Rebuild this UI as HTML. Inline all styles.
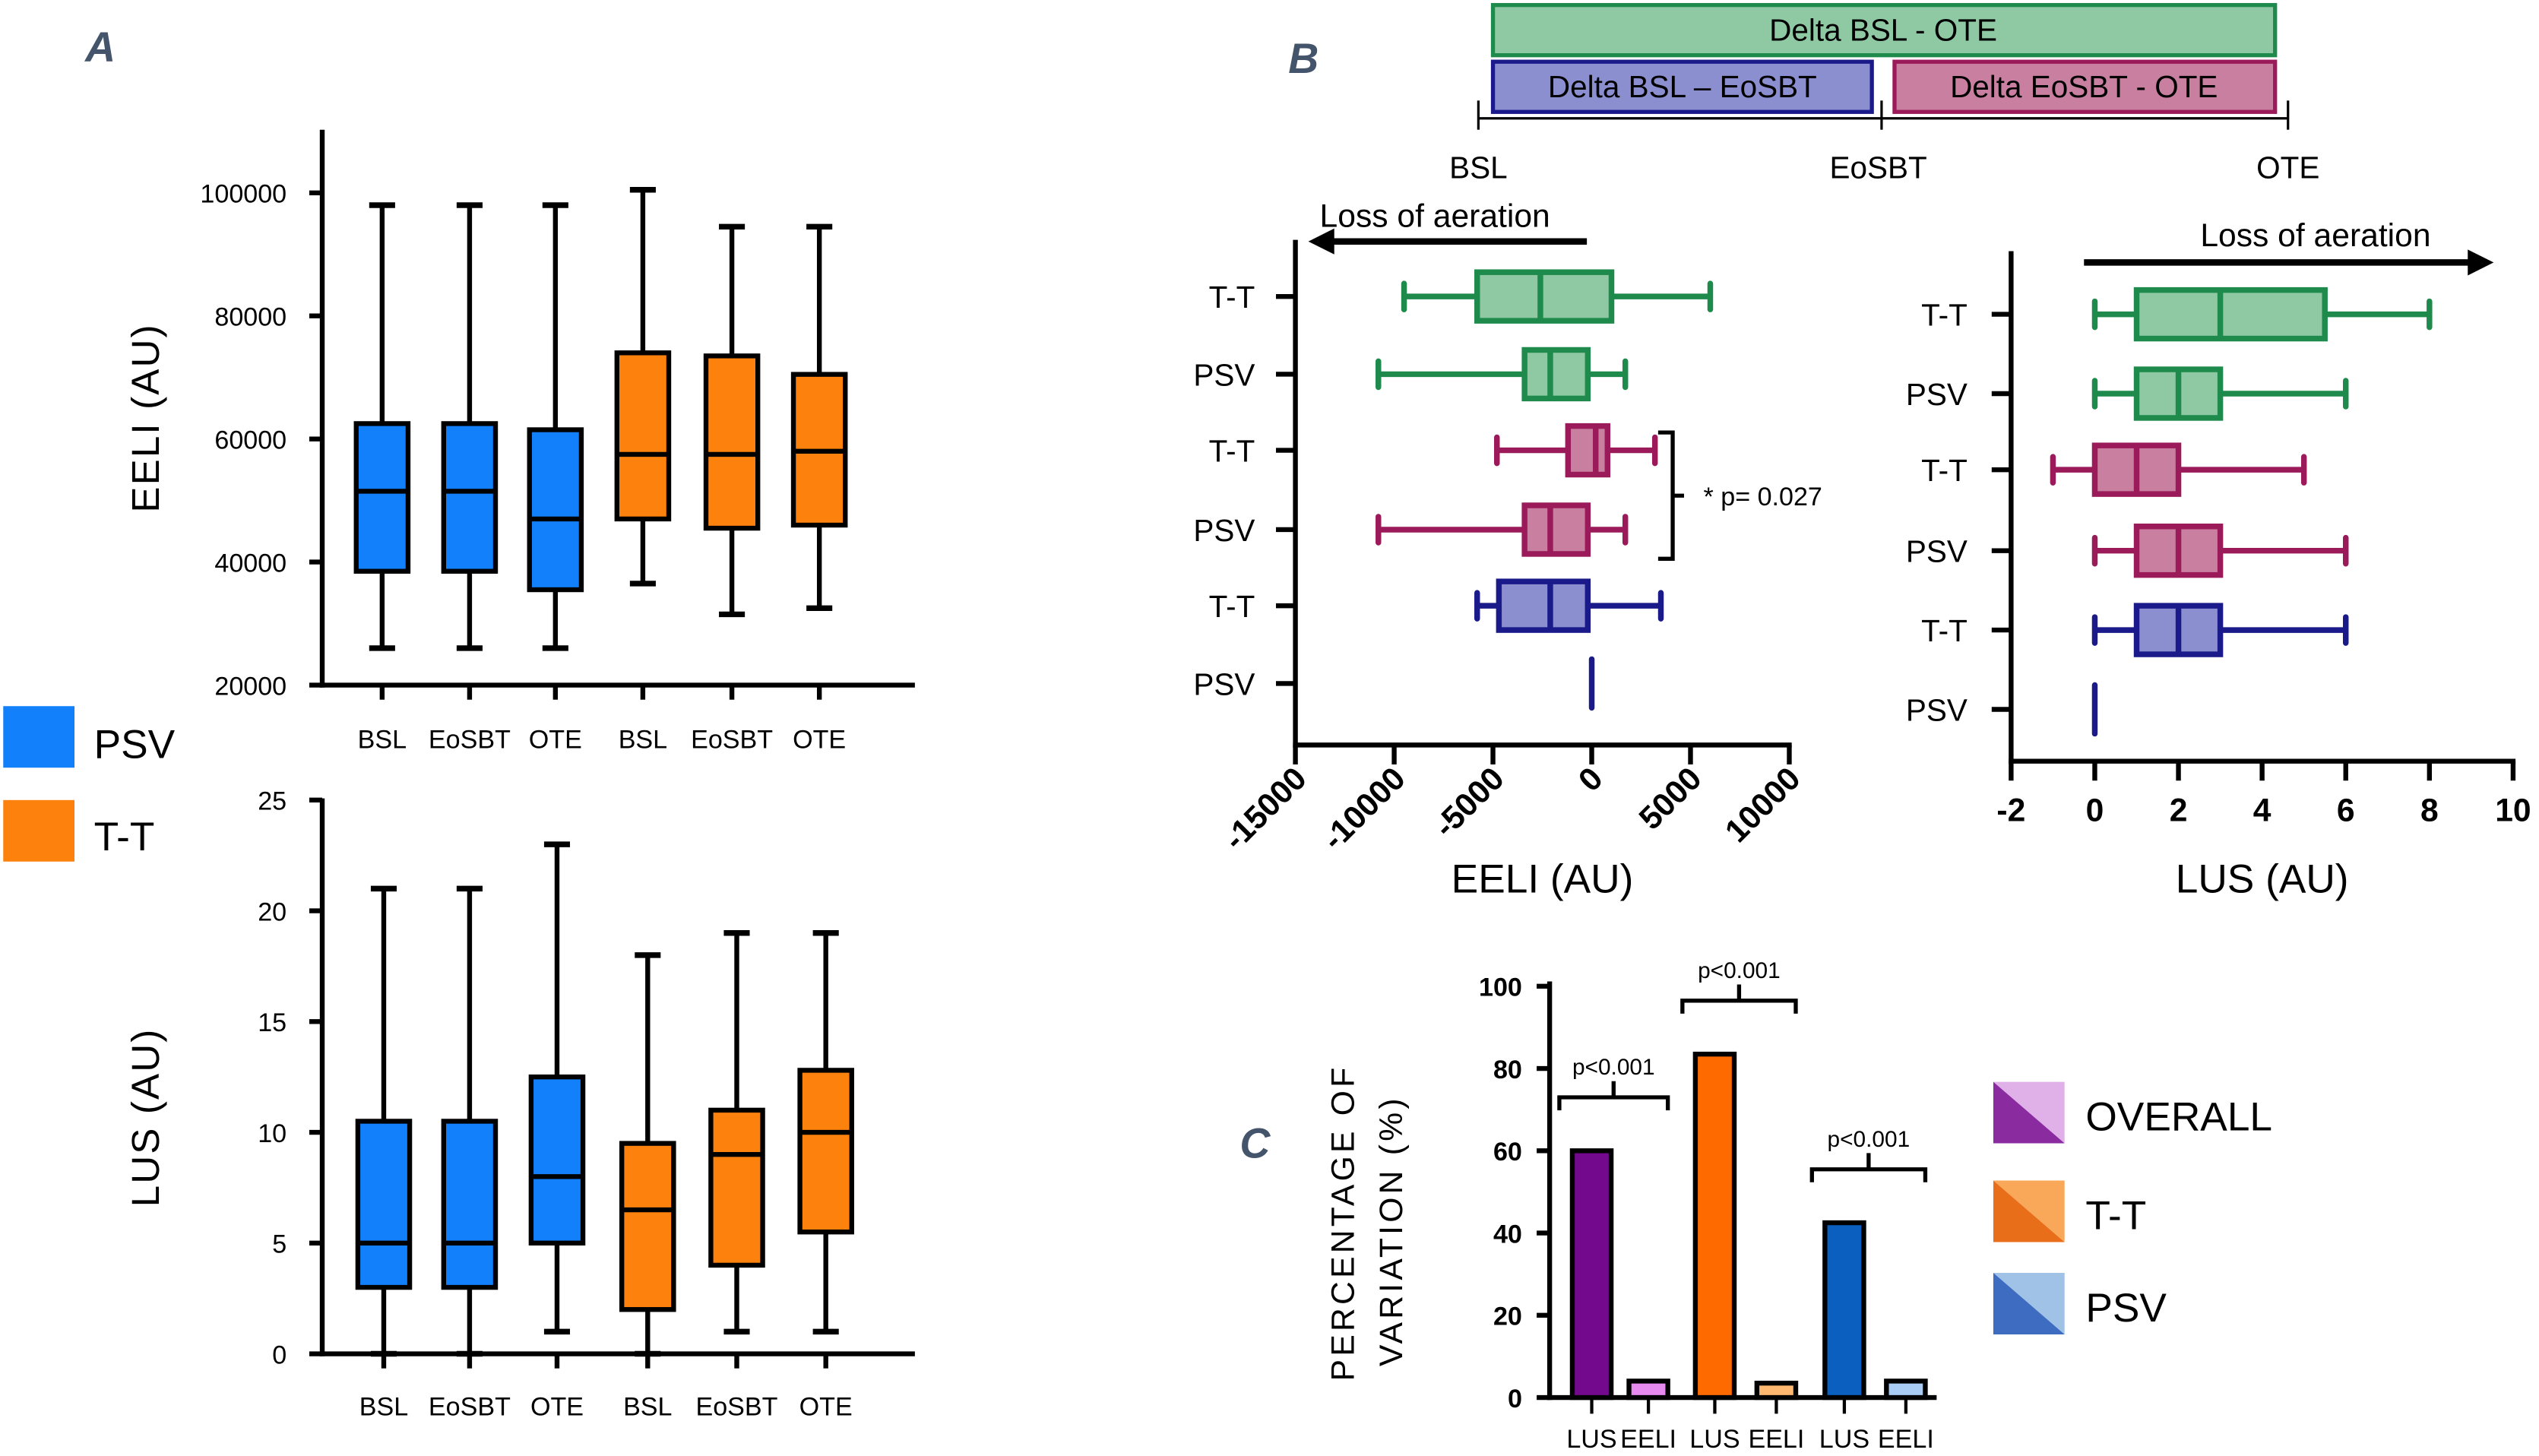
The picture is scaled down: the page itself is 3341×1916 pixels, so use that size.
<!DOCTYPE html>
<html><head><meta charset="utf-8"><style>
html,body{margin:0;padding:0;background:#fff;}
svg{display:block;font-family:"Liberation Sans",sans-serif;}
</style></head><body>
<svg id="fig" width="3341" height="1916" viewBox="0 0 1568 899" xmlns="http://www.w3.org/2000/svg">
<text x="62" y="38" font-size="26" font-weight="bold" font-style="italic" fill="#44546a" text-anchor="middle">A</text>
<text x="805" y="45" font-size="26" font-weight="bold" font-style="italic" fill="#44546a" text-anchor="middle">B</text>
<text x="775" y="715" font-size="26" font-weight="bold" font-style="italic" fill="#44546a" text-anchor="middle">C</text>
<g>
<rect x="2" y="436" width="44" height="38" fill="#1380fb"/>
<text x="58" y="468" font-size="25">PSV</text>
<rect x="2" y="494" width="44" height="38" fill="#fd820d"/>
<text x="58" y="525" font-size="25">T-T</text>
</g>
<g>
<rect x="922" y="3" width="483" height="31" fill="#8fc9a3" stroke="#1e8a4b" stroke-width="2.5"/>
<text x="1163" y="25" font-size="19" text-anchor="middle">Delta BSL - OTE</text>
<rect x="922" y="38" width="234" height="31" fill="#8b8fd0" stroke="#1a1a8a" stroke-width="2.5"/>
<text x="1039" y="60" font-size="19" text-anchor="middle">Delta BSL – EoSBT</text>
<rect x="1170" y="38" width="235" height="31" fill="#c97fa0" stroke="#9b1a5a" stroke-width="2.5"/>
<text x="1287" y="60" font-size="19" text-anchor="middle">Delta EoSBT - OTE</text>
<line x1="913" y1="73" x2="1413" y2="73" stroke="#000" stroke-width="1.5"/>
<line x1="913" y1="62" x2="913" y2="80" stroke="#000" stroke-width="1.5"/>
<line x1="1162" y1="62" x2="1162" y2="80" stroke="#000" stroke-width="1.5"/>
<line x1="1413" y1="62" x2="1413" y2="80" stroke="#000" stroke-width="1.5"/>
<text x="913" y="110" font-size="19" text-anchor="middle">BSL</text>
<text x="1160" y="110" font-size="19" text-anchor="middle">EoSBT</text>
<text x="1413" y="110" font-size="19" text-anchor="middle">OTE</text>
</g>
</svg>
<script>
// ---- Panel A top (EELI) ----
const aCats = ["BSL","EoSBT","OTE","BSL","EoSBT","OTE"];
const aGroups = ["PSV","PSV","PSV","T-T","T-T","T-T"];
const eeliMin = [26000,26000,26000,36500,31500,32500];
const eeliQ1 = [38500,38500,35500,47000,45500,46000];
const eeliMed = [51500,51500,47000,57500,57500,58000];
const eeliQ3 = [62500,62500,61500,74000,73500,70500];
const eeliMax = [98000,98000,98000,100500,94500,94500];
const eeliTicks = [20000,40000,60000,80000,100000];
// ---- Panel A bottom (LUS) ----
const lusMin = [0,0,1,0,1,1];
const lusQ1 = [3,3,5,2,4,5.5];
const lusMed = [5,5,8,6.5,9,10];
const lusQ3 = [10.5,10.5,12.5,9.5,11,12.8];
const lusMax = [21,21,23,18,19,19];
const lusTicks = [0,5,10,15,20,25];
// ---- Panel B deltas ----
const bRows = ["T-T","PSV","T-T","PSV","T-T","PSV"];
const bRowGroup = ["green","green","pink","pink","blue","blue"];
const dEeliMin = [-9500,-10800,-4800,-10800,-5800,0];
const dEeliQ1 = [-5800,-3400,-1200,-3400,-4700,0];
const dEeliMed = [-2600,-2100,200,-2100,-2100,0];
const dEeliQ3 = [1000,-200,800,-200,-200,0];
const dEeliMax = [6000,1700,3200,1700,3500,0];
const dEeliTicks = [-15000,-10000,-5000,0,5000,10000];
const dLusMin = [0,0,-1,0,0,0];
const dLusQ1 = [1,1,0,1,1,0];
const dLusMed = [3,2,1,2,2,0];
const dLusQ3 = [5.5,3,2,3,3,0];
const dLusMax = [8,6,5,6,6,0];
const dLusTicks = [-2,0,2,4,6,8,10];
// ---- Panel C ----
const cCats = ["LUS","EELI","LUS","EELI","LUS","EELI"];
const cVals = [60,4,83.5,3.5,42.5,4];
const cTicks = [0,20,40,60,80,100];

const svg = document.getElementById('fig');
const NS = 'http://www.w3.org/2000/svg';
function mk(tag, a, parent){const e=document.createElementNS(NS,tag);for(const k in a)e.setAttribute(k,a[k]);(parent||svg).appendChild(e);return e;}
function lin(d0,d1,r0,r1){return v=>r0+(v-d0)*(r1-r0)/(d1-d0);}

function vBoxPanel(name, y, yTop, yBot, tickVals, lblY, mins,q1,med,q3,maxs, xs, title, titleY){
  const g = mk('g',{});
  
  
  const ax = mk('line',{x1:199,y1:yTop,x2:199,y2:yBot+1.5,stroke:'#000','stroke-width':3},g);
  
  
  const bx = mk('line',{x1:197.5,y1:yBot,x2:565,y2:yBot,stroke:'#000','stroke-width':3},g);
  
  
  tickVals.forEach(t=>{
    const tl = mk('line',{x1:191,y1:y(t),x2:199,y2:y(t),stroke:'#000','stroke-width':3},g);
    
    
    const tt = mk('text',{x:177,y:y(t)+6,'font-size':16,'text-anchor':'end'},g);
    tt.textContent = String(t);
    
    
  });
  const ti = mk('text',{x:0,y:0,'font-size':24,'text-anchor':'middle','letter-spacing':'1',transform:`translate(98,${titleY}) rotate(-90)`},g);
  ti.textContent = title;
  
  
  xs.forEach((cx,i)=>{
    const col = aGroups[i]==='PSV' ? '#1380fb' : '#fd820d';
    const bg = mk('g',{},g);
    
    
    const w = mk('line',{x1:cx,y1:y(maxs[i]),x2:cx,y2:y(mins[i]),stroke:'#000','stroke-width':3},bg);
    
    
    [mins[i],maxs[i]].forEach(v=>{
      const c = mk('line',{x1:cx-8,y1:y(v),x2:cx+8,y2:y(v),stroke:'#000','stroke-width':3.5},bg);
      
      
    });
    const r = mk('rect',{x:cx-16,y:y(q3[i]),width:32,height:y(q1[i])-y(q3[i]),fill:col,stroke:'#000','stroke-width':3},bg);
    
    
    const m = mk('line',{x1:cx-16,y1:y(med[i]),x2:cx+16,y2:y(med[i]),stroke:'#000','stroke-width':3},bg);
    
    
    const xt = mk('line',{x1:cx,y1:yBot,x2:cx,y2:yBot+9,stroke:'#000','stroke-width':3},g);
    
    
    const xl = mk('text',{x:cx,y:lblY,'font-size':16,'text-anchor':'middle'},g);
    xl.textContent = aCats[i];
    
    
  });
}
vBoxPanel('eeli-boxplot', lin(20000,100000,423,119), 80, 423, eeliTicks, 462,
  eeliMin,eeliQ1,eeliMed,eeliQ3,eeliMax,[236,290,343,397,452,506],'EELI (AU)',258);
vBoxPanel('lus-boxplot', lin(0,25,836,494), 493, 836, lusTicks, 874,
  lusMin,lusQ1,lusMed,lusQ3,lusMax,[237,290,344,400,455,510],'LUS (AU)',690);

const gCol = {green:['#1e8a4b','#8fc9a3'],pink:['#9b1a5a','#c97fa0'],blue:['#1a1a8a','#8b8fd0']};
function hBoxPanel(name, x, x0, x1, yTop, yBot, rowsY, tickVals, tickY, rotate, mins,q1,med,q3,maxs, title, labelX){
  const g = mk('g',{});
  
  
  const ay = mk('line',{x1:x0,y1:yTop,x2:x0,y2:yBot+1.5,stroke:'#000','stroke-width':3},g);
  
  
  const axx = mk('line',{x1:x0-1.5,y1:yBot,x2:x1+1.5,y2:yBot,stroke:'#000','stroke-width':3},g);
  
  
  tickVals.forEach(t=>{
    const tl = mk('line',{x1:x(t),y1:yBot,x2:x(t),y2:yBot+12,stroke:'#000','stroke-width':3},g);
    
    
    let tt;
    if(rotate){
      tt = mk('text',{x:0,y:0,'font-size':20,'font-weight':'bold','text-anchor':'end',transform:`translate(${x(t)+8},${tickY}) rotate(-45)`},g);
    } else {
      tt = mk('text',{x:x(t),y:tickY,'font-size':20,'font-weight':'bold','text-anchor':'middle'},g);
    }
    tt.textContent = String(t);
    
    
  });
  const ti = mk('text',{x:(x0+x1)/2,y:551,'font-size':25,'text-anchor':'middle'},g);
  ti.textContent = title;
  
  
  rowsY.forEach((cy,i)=>{
    const [sc,fc] = gCol[bRowGroup[i]];
    const yt = mk('line',{x1:x0-12,y1:cy,x2:x0,y2:cy,stroke:'#000','stroke-width':3},g);
    
    
    const yl = mk('text',{x:labelX,y:cy+7,'font-size':19,'text-anchor':'end'},g);
    yl.textContent = bRows[i];
    
    
    const bg = mk('g',{},g);
    
    
    if(maxs[i]===mins[i] && q1[i]===q3[i]){
      const z = mk('line',{x1:x(med[i]),y1:cy-15,x2:x(med[i]),y2:cy+15,stroke:sc,'stroke-width':3.5,'stroke-linecap':'round'},bg);
      
      
      return;
    }
    const w = mk('line',{x1:x(mins[i]),y1:cy,x2:x(maxs[i]),y2:cy,stroke:sc,'stroke-width':3.5},bg);
    
    
    [mins[i],maxs[i]].forEach(v=>{
      const c = mk('line',{x1:x(v),y1:cy-8,x2:x(v),y2:cy+8,stroke:sc,'stroke-width':3.5,'stroke-linecap':'round'},bg);
      
      
    });
    const r = mk('rect',{x:x(q1[i]),y:cy-15,width:x(q3[i])-x(q1[i]),height:30,fill:fc,stroke:sc,'stroke-width':3.5},bg);
    
    
    const m = mk('line',{x1:x(med[i]),y1:cy-15,x2:x(med[i]),y2:cy+15,stroke:sc,'stroke-width':3.5},bg);
    
    
  });
}
hBoxPanel('delta-eeli-boxplot', lin(-15000,10000,800,1105), 800, 1105, 148, 460,
  [183,231,278,327,374,422], dEeliTicks, 482, true,
  dEeliMin,dEeliQ1,dEeliMed,dEeliQ3,dEeliMax,'EELI (AU)',775);
hBoxPanel('delta-lus-boxplot', lin(-2,10,1242,1552), 1242, 1552, 155, 470,
  [194,243,290,340,389,438], dLusTicks, 507, false,
  dLusMin,dLusQ1,dLusMed,dLusQ3,dLusMax,'LUS (AU)',1215);

const ar1 = mk('line',{x1:980,y1:149,x2:822,y2:149,stroke:'#000','stroke-width':4});


const ah1 = mk('polygon',{points:'808,149 824,141 824,157',fill:'#000'});


const at1 = mk('text',{x:815,y:140,'font-size':20});
at1.textContent = 'Loss of aeration';


const ar2 = mk('line',{x1:1287,y1:162,x2:1526,y2:162,stroke:'#000','stroke-width':4});


const ah2 = mk('polygon',{points:'1540,162 1524,154 1524,170',fill:'#000'});


const at2 = mk('text',{x:1430,y:152,'font-size':20,'text-anchor':'middle'});
at2.textContent = 'Loss of aeration';


const br = mk('path',{d:'M1024,267 L1033,267 L1033,345 L1024,345 M1033,306 L1040,306',fill:'none',stroke:'#000','stroke-width':2.5});


const bt = mk('text',{x:1052,y:312,'font-size':16});
bt.textContent = '* p= 0.027';



// ===== Panel C bar chart =====
const cy = lin(0,100,863,609);
const cX = [983,1018,1059,1097,1139,1177];
const cFill = ['#730a8e','#e68af0','#ff6a00','#ffb870','#0a5fbf','#a9ccf5'];
const cg = mk('g',{});


const cax = mk('line',{x1:957,y1:606,x2:957,y2:864.5,stroke:'#000','stroke-width':3},cg);


const cbx = mk('line',{x1:955.5,y1:863,x2:1196,y2:863,stroke:'#000','stroke-width':3},cg);


cTicks.forEach(t=>{
  const tl = mk('line',{x1:949,y1:cy(t),x2:957,y2:cy(t),stroke:'#000','stroke-width':3},cg);
  
  
  const tt = mk('text',{x:940,y:cy(t)+6,'font-size':16,'font-weight':'bold','text-anchor':'end'},cg);
  tt.textContent = String(t);
  
  
});
cVals.forEach((v,i)=>{
  const r = mk('rect',{x:cX[i]-12,y:cy(v),width:24,height:863-cy(v),fill:cFill[i],stroke:'#000','stroke-width':3},cg);
  
  
  const xt = mk('line',{x1:cX[i],y1:863,x2:cX[i],y2:873,stroke:'#000','stroke-width':2},cg);
  
  
  const xl = mk('text',{x:cX[i],y:894,'font-size':16,'text-anchor':'middle'},cg);
  xl.textContent = cCats[i];
  
  
});
const cti1 = mk('text',{x:0,y:0,'font-size':20,'text-anchor':'middle','letter-spacing':'2',transform:'translate(836,755) rotate(-90)'},cg);
cti1.textContent = 'PERCENTAGE OF';


const cti2 = mk('text',{x:0,y:0,'font-size':20,'text-anchor':'middle','letter-spacing':'2',transform:'translate(866,760) rotate(-90)'},cg);
cti2.textContent = 'VARIATION (%)';


[[0,1],[2,3],[4,5]].forEach(([a,b])=>{
  const top = cy(Math.max(cVals[a],cVals[b])) - 33;
  const xa = cX[a]-20, xb = cX[b]+12, xm=(xa+xb)/2;
  const p = mk('path',{d:`M${xa},${top+8} L${xa},${top} L${xb},${top} L${xb},${top+8} M${xm},${top} L${xm},${top-10}`,fill:'none',stroke:'#000','stroke-width':2.5},cg);
  
  
  const t = mk('text',{x:xm,y:top-14,'font-size':14,'text-anchor':'middle'},cg);
  t.textContent = 'p<0.001';
  
  
});
const legC = [['OVERALL','#8a2ba0','#e0b0e8',668],['T-T','#e86e1a','#f9a85a',729],['PSV','#3d6cc0','#9fc2e6',786]];
legC.forEach(([lbl,dk,lt,y0])=>{
  const lg = mk('g',{},cg);
  
  
  const p1 = mk('polygon',{points:`1231,${y0} 1275,${y0} 1275,${y0+38}`,fill:lt},lg);
  
  
  const p2 = mk('polygon',{points:`1231,${y0} 1275,${y0+38} 1231,${y0+38}`,fill:dk},lg);
  
  
  const t = mk('text',{x:1288,y:y0+30,'font-size':25},lg);
  t.textContent = lbl;
  
  
});
</script>
</body></html>
